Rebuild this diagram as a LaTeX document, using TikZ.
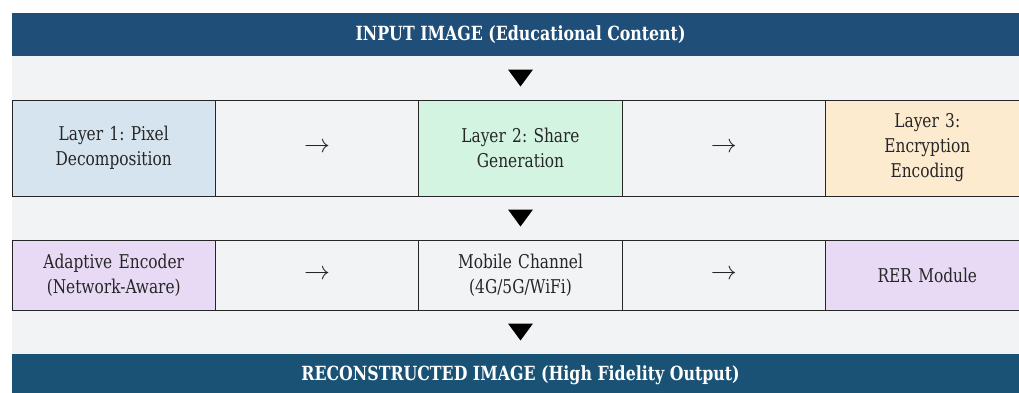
\documentclass[tikz,border=0pt]{standalone}
\usepackage{fontspec}
\setmainfont[FakeStretch=0.9]{DejaVu Serif Condensed}
\usepackage{tikz}
\frenchspacing

\definecolor{bannerTop}{HTML}{1F4E79}
\definecolor{bannerBot}{HTML}{1A5276}
\definecolor{bandGray}{HTML}{F2F3F5}
\definecolor{pixBlue}{HTML}{D6E4F0}
\definecolor{shareGreen}{HTML}{D4F4E2}
\definecolor{encOrange}{HTML}{FDEBD0}
\definecolor{modPurple}{HTML}{E8DAF5}

\newcommand{\nextstep}{\scalebox{1.5}{$\rightarrow$}}

\tikzset{
  banner/.style={fill=#1, text=white, minimum width=1017pt, minimum height=43pt,
    inner sep=0pt, font=\fontsize{19.5}{22}\selectfont\bfseries},
  band/.style={fill=bandGray, minimum width=1017pt, minimum height=44pt, inner sep=0pt},
  cell/.style={draw=black!85, line width=0.8pt, fill=#1, minimum width=203.4pt,
    inner sep=0pt, text width=180pt, align=center, text=black!85,
    font=\fontsize{19}{25}\selectfont},
  cell/.default=bandGray
}

\begin{document}
\begin{tikzpicture}[x=1pt,y=-1pt]
  \useasboundingbox (0,0) rectangle (1019,392);
  \clip (0,0) rectangle (1019,392);

  % top and bottom banners
  \node[banner=bannerTop] (input) at (520.5,34.5) {INPUT IMAGE (Educational Content)};
  \node[band] (gapA) at (520.5,78) {};
  \node[band] (gapB) at (520.5,218) {};
  \node[band] (gapC) at (520.5,332) {};
  \node[banner=bannerBot] (output) at (520.5,375.5) {RECONSTRUCTED IMAGE (High Fidelity Output)};

  % row 1: the three layers
  \node[cell=pixBlue, minimum height=96pt] (pixel) at (113.7,148) {Layer 1: Pixel\\Decomposition};
  \node[cell, minimum height=96pt] (toA) at (317.1,148) {\nextstep};
  \node[cell=shareGreen, minimum height=96pt] (share) at (520.5,148) {Layer 2: Share\\Generation};
  \node[cell, minimum height=96pt] (toB) at (723.9,148) {\nextstep};
  \node[cell=encOrange, minimum height=96pt] (encrypt) at (927.3,148) {Layer 3:\\Encryption\\Encoding};

  % row 2: transmission
  \node[cell=modPurple, minimum height=70pt] (adaptive) at (113.7,275) {Adaptive Encoder\\(Network-Aware)};
  \node[cell, minimum height=70pt] (toC) at (317.1,275) {\nextstep};
  \node[cell, minimum height=70pt] (channel) at (520.5,275) {Mobile Channel\\(4G/5G/WiFi)};
  \node[cell, minimum height=70pt] (toD) at (723.9,275) {\nextstep};
  \node[cell=modPurple, minimum height=70pt] (rer) at (927.3,275) {RER Module};

  % down markers
  \foreach \g in {gapA,gapB,gapC}
    \fill (\g.center) ++(-12.5,-8.5) -- ++(25,0) -- ++(-12.5,17) -- cycle;
\end{tikzpicture}
\end{document}
